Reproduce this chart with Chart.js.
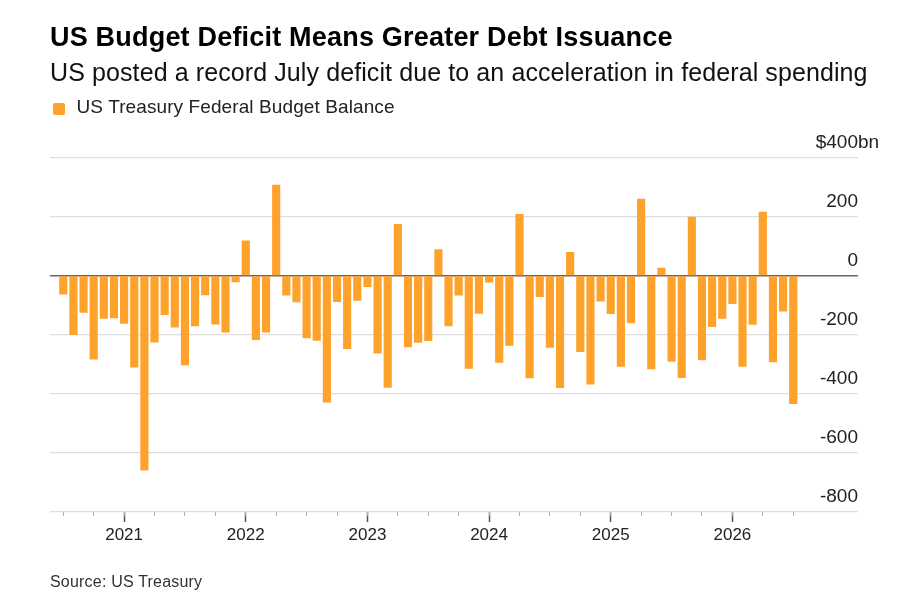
<!DOCTYPE html>
<html>
<head>
<meta charset="utf-8">
<script src="https://cdn.jsdelivr.net/npm/chart.js@4/dist/chart.umd.min.js"></script>
<style>
  body { margin: 0; background: #fff; }
  #wrap { position: relative; width: 900px; height: 596px; font-family: "Liberation Sans", Arial, sans-serif; }
  #wrap canvas { position: absolute; left: 0; top: 0; }
  .txt { position: absolute; left: 50px; line-height: 1; white-space: nowrap; }
  #title { top: 24px; font-size: 27px; letter-spacing: 0.2px; font-weight: bold; color: #000; }
  #subtitle { top: 59.6px; font-size: 25px; letter-spacing: 0.1px; color: #111; }
  #legend { top: 97.2px; left: 76.5px; font-size: 19px; letter-spacing: 0.1px; color: #222; }
  #swatch { position: absolute; left: 52.5px; top: 102.5px; width: 12px; height: 12px; border-radius: 2px; background: #ffa22b; }
  #source { top: 574.2px; font-size: 16px; letter-spacing: 0.2px; color: #333; }
</style>
</head>
<body>
<div id="wrap">
  <canvas id="deficitChart" width="900" height="596"></canvas>
  <div class="txt" id="title">US Budget Deficit Means Greater Debt Issuance</div>
  <div class="txt" id="subtitle">US posted a record July deficit due to an acceleration in federal spending</div>
  <div id="swatch"></div>
  <div class="txt" id="legend">US Treasury Federal Budget Balance</div>
  <div class="txt" id="source">Source: US Treasury</div>
</div>
<script>
// Monatswerte, Jul 2020 bis Jul 2026 (in Mrd. $)
var months = [
    'Jul 2020', 'Aug 2020', 'Sep 2020', 'Oct 2020', 'Nov 2020', 'Dec 2020',
    'Jan 2021', 'Feb 2021', 'Mar 2021', 'Apr 2021', 'May 2021', 'Jun 2021', 'Jul 2021', 'Aug 2021', 'Sep 2021', 'Oct 2021', 'Nov 2021', 'Dec 2021',
    'Jan 2022', 'Feb 2022', 'Mar 2022', 'Apr 2022', 'May 2022', 'Jun 2022', 'Jul 2022', 'Aug 2022', 'Sep 2022', 'Oct 2022', 'Nov 2022', 'Dec 2022',
    'Jan 2023', 'Feb 2023', 'Mar 2023', 'Apr 2023', 'May 2023', 'Jun 2023', 'Jul 2023', 'Aug 2023', 'Sep 2023', 'Oct 2023', 'Nov 2023', 'Dec 2023',
    'Jan 2024', 'Feb 2024', 'Mar 2024', 'Apr 2024', 'May 2024', 'Jun 2024', 'Jul 2024', 'Aug 2024', 'Sep 2024', 'Oct 2024', 'Nov 2024', 'Dec 2024',
    'Jan 2025', 'Feb 2025', 'Mar 2025', 'Apr 2025', 'May 2025', 'Jun 2025', 'Jul 2025', 'Aug 2025', 'Sep 2025', 'Oct 2025', 'Nov 2025', 'Dec 2025',
    'Jan 2026', 'Feb 2026', 'Mar 2026', 'Apr 2026', 'May 2026', 'Jun 2026', 'Jul 2026'
];
var balance = [
    -63, -200, -124, -283, -145, -143,
    -162, -310, -658, -225, -132, -174, -302, -170, -65, -164, -191, -21,
    118, -217, -191, 307, -66, -89, -211, -219, -428, -88, -247, -84,
    -37, -262, -378, 174, -241, -226, -220, 88, -170, -66, -314, -128,
    -22, -294, -236, 208, -346, -71, -243, -379, 79, -257, -367, -86,
    -129, -307, -160, 259, -316, 26, -290, -345, 198, -285, -173, -145,
    -95, -307, -165, 215, -292, -120, -433
];
var yTicks = [-800, -600, -400, -200, 0, 200, 400];

var orange = '#ffa22b';

// Jahres- und Quartalsmarken aus den Monatsnamen
var yearIdx = [], quarterIdx = [];
months.forEach(function (m, i) {
    var mon = m.slice(0, 3);
    if (mon === 'Jan') yearIdx.push(i);
    if (['Jan', 'Apr', 'Jul', 'Oct'].indexOf(mon) >= 0) quarterIdx.push(i);
});

var points = balance.map(function (v, i) { return { x: i, y: v }; });
var xMin = -1.31, xMax = 78.39;

// "bn" hinter dem obersten Label
var unitPlugin = {
    id: 'unit',
    afterDraw: function (chart) {
        var ys = chart.scales.y;
        var ctx = chart.ctx;
        ctx.save();
        ctx.font = '19px "Liberation Sans", Arial, sans-serif';
        ctx.fillStyle = '#222';
        ctx.textAlign = 'left';
        ctx.textBaseline = 'middle';
        ctx.fillText('bn', ys.left, ys.getPixelForValue(yTicks[yTicks.length - 1]) - 15);
        ctx.restore();
    }
};

Chart.defaults.font.family = '"Liberation Sans", Arial, sans-serif';

var ctx = document.getElementById('deficitChart').getContext('2d');
new Chart(ctx, {
    type: 'bar',
    data: {
        datasets: [{
            label: 'US Treasury Federal Budget Balance',
            data: points,
            xAxisID: 'x',
            backgroundColor: orange,
            borderWidth: 0,
            barThickness: 7.5
        }]
    },
    options: {
        responsive: false,
        animation: false,
        layout: { padding: { left: 50, right: 42, top: 157.5, bottom: 44 } },
        plugins: {
            legend: { display: false },
            tooltip: { enabled: false }
        },
        scales: {
            x: {
                type: 'linear',
                min: xMin,
                max: xMax,
                offset: false,
                weight: 1,
                border: { display: false },
                grid: { offset: false, drawOnChartArea: false, tickLength: 10, tickWidth: 1.5, tickColor: '#555' },
                ticks: {
                    autoSkip: false,
                    maxRotation: 0,
                    padding: 3,
                    color: '#222',
                    font: { size: 17 },
                    callback: function (v) { return months[v] ? months[v].slice(4) : ''; }
                },
                afterBuildTicks: function (s) { s.ticks = yearIdx.map(function (v) { return { value: v }; }); },
                afterFit: function (s) { s.height = 40; }
            },
            x2: {
                type: 'linear',
                position: 'bottom',
                min: xMin,
                max: xMax,
                offset: false,
                weight: 0,
                border: { display: false },
                grid: { offset: false, drawOnChartArea: false, tickLength: 4, tickWidth: 1, tickColor: '#aaa' },
                ticks: { display: false },
                afterBuildTicks: function (s) { s.ticks = quarterIdx.map(function (v) { return { value: v }; }); },
                afterFit: function (s) { s.height = 0; }
            },
            y: {
                position: 'right',
                min: yTicks[0],
                max: yTicks[yTicks.length - 1],
                border: { display: false },
                grid: {
                    drawTicks: false,
                    color: function (c) { return c.tick && c.tick.value === 0 ? '#666' : '#dedede'; },
                    lineWidth: function (c) { return c.tick && c.tick.value === 0 ? 1.6 : 1.3; }
                },
                ticks: {
                    stepSize: 200,
                    mirror: true,
                    padding: 0,
                    labelOffset: -15,
                    color: '#222',
                    font: { size: 19 },
                    callback: function (v) { return v === 400 ? '$400' : v; }
                },
                afterFit: function (s) { s.width = 0; }
            }
        }
    },
    plugins: [unitPlugin]
});
</script>
</body>
</html>
